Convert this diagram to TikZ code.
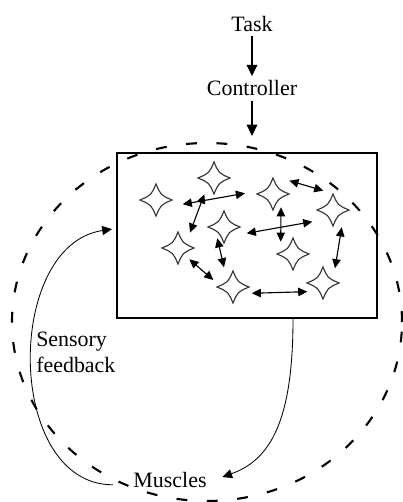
\documentclass[tikz,border=0pt]{standalone}
\usepackage{fontspec}
\setmainfont{Liberation Serif}
\usetikzlibrary{arrows.meta}

\begin{document}
\begin{tikzpicture}[
    lbl/.style={font=\fontsize{15.6}{18.5}\selectfont, inner sep=3pt},
    flow/.style={line width=0.9pt, -{Triangle[length=8pt,width=7.5pt]}},
    loopline/.style={line width=0.6pt, -{Triangle[length=7pt,width=6.5pt]}},
    swap/.style={line width=0.8pt, {Triangle[length=6.5pt,width=6pt]}-{Triangle[length=6.5pt,width=6pt]}},
    starline/.style={draw=black!80, line width=0.8pt},
  ]
  \useasboundingbox (0,0) rectangle (10.075,12.55);

  \node[lbl] (task) at (6.3,11.95) {Task};
  \node[lbl] (ctrl) at (6.3,10.34) {Controller};
  \node[draw, line width=1.4pt, minimum width=6.5cm, minimum height=4.125cm] (net) at (6.175,6.6625) {};
  \node[lbl] (musc) at (4.25,0.55) {Muscles};
  \node[lbl, align=left, anchor=west, inner sep=0pt] (sense) at (0.9,3.75) {Sensory\\feedback};

  \draw[flow] (task) -- (ctrl);
  \draw[flow, shorten >=11.4pt] (ctrl) -- (ctrl |- net.north);

  % units inside the box
  \foreach \x/\y in {3.9/7.55, 5.35/8.1, 6.825/7.7, 8.325/7.3, 5.6/6.875,
                     4.45/6.35, 7.325/6.2, 5.825/5.375, 8.075/5.475}
    \draw[starline, shift={(\x,\y)}] (0.4,0) .. controls (0.12,0.12) .. (0,0.4)
      .. controls (-0.12,0.12) .. (-0.4,0) .. controls (-0.12,-0.12) .. (0,-0.4)
      .. controls (0.12,-0.12) .. (0.4,0) -- cycle;

  % interactions between units
  \foreach \xa/\ya/\xb/\yb in {4.568/7.443/6.125/7.718, 5.108/7.693/4.75/6.733,
                               7.233/8.033/8.083/7.783, 7.025/7.368/7.018/6.508,
                               6.168/6.718/7.808/7.008, 5.433/6.593/5.6/5.868,
                               4.733/6.068/5.333/5.55, 6.293/5.218/7.683/5.258,
                               8.543/6.868/8.375/5.843}
    \draw[swap] (\xa,\ya) -- (\xb,\yb);

  \draw[line width=1.5pt, dash pattern=on 0.27cm off 0.49cm]
    (5.175,4.5) ellipse [x radius=4.875, y radius=4.475];

  \draw[loopline] ([xshift=1.15cm]net.south) .. controls +(0,-2.55) and +(1.2,0.425)
    .. ([shift={(0.28,0.075)}]musc.east);
  \draw[loopline] ([shift={(-0.4,-0.12)}]musc.west) .. controls +(-2.7,0) and +(-2.7,-0.4)
    .. ([shift={(-0.1,0.16)}]net.west);
\end{tikzpicture}
\end{document}
